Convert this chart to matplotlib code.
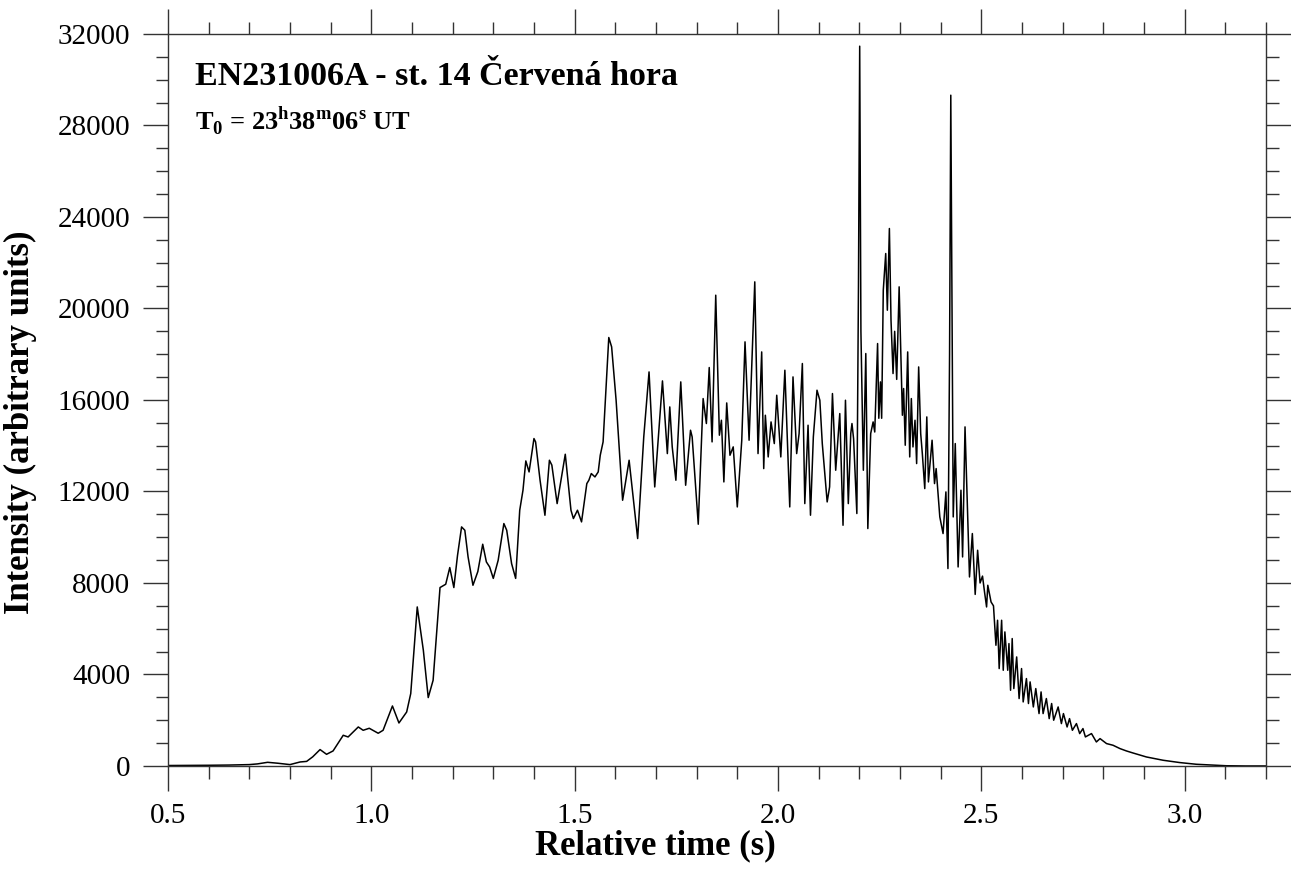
import numpy as np
import matplotlib
matplotlib.use('Agg')
import matplotlib.pyplot as plt
from matplotlib.ticker import MultipleLocator

plt.rcParams['font.family'] = 'Liberation Serif'
plt.rcParams['mathtext.fontset'] = 'custom'
plt.rcParams['mathtext.rm'] = 'Liberation Serif'
plt.rcParams['mathtext.bf'] = 'Liberation Serif:bold'

# light curve: relative time (s), intensity
time_s = [
    0.500, 0.550, 0.600, 0.650, 0.700, 0.720, 0.745, 0.770, 0.800, 0.825,
    0.841, 0.856, 0.874, 0.890, 0.906, 0.931, 0.943, 0.968, 0.980, 0.995,
    1.017, 1.029, 1.052, 1.068, 1.087, 1.097, 1.113, 1.128, 1.140, 1.152,
    1.169, 1.183, 1.193, 1.203, 1.212, 1.222, 1.230, 1.238, 1.250, 1.262,
    1.274, 1.283, 1.291, 1.300, 1.312, 1.326, 1.333, 1.345, 1.355, 1.365,
    1.373, 1.380, 1.388, 1.400, 1.404, 1.415, 1.427, 1.438, 1.444, 1.457,
    1.477, 1.491, 1.497, 1.507, 1.517, 1.530, 1.535, 1.541, 1.550, 1.558,
    1.563, 1.570, 1.584, 1.591, 1.602, 1.618, 1.634, 1.655, 1.670, 1.683,
    1.697, 1.716, 1.728, 1.734, 1.740, 1.749, 1.761, 1.773, 1.785, 1.789,
    1.804, 1.816, 1.824, 1.831, 1.838, 1.847, 1.856, 1.861, 1.867, 1.874,
    1.882, 1.890, 1.900, 1.911, 1.919, 1.929, 1.943, 1.951, 1.960, 1.965,
    1.969, 1.976, 1.983, 1.991, 1.997, 2.007, 2.017, 2.029, 2.037, 2.046,
    2.052, 2.060, 2.066, 2.074, 2.080, 2.087, 2.096, 2.103, 2.109, 2.121,
    2.127, 2.134, 2.142, 2.152, 2.160, 2.166, 2.173, 2.179, 2.182, 2.186,
    2.194, 2.198, 2.201, 2.204, 2.210, 2.216, 2.221, 2.228, 2.234, 2.238,
    2.245, 2.248, 2.252, 2.255, 2.259, 2.265, 2.269, 2.274, 2.278, 2.283,
    2.287, 2.292, 2.298, 2.306, 2.309, 2.313, 2.319, 2.324, 2.328, 2.332,
    2.337, 2.341, 2.346, 2.351, 2.355, 2.361, 2.366, 2.370, 2.379, 2.385,
    2.389, 2.398, 2.406, 2.413, 2.418, 2.422, 2.425, 2.428, 2.431, 2.436,
    2.443, 2.450, 2.454, 2.460, 2.466, 2.471, 2.478, 2.485, 2.491, 2.497,
    2.503, 2.508, 2.513, 2.516, 2.524, 2.530, 2.536, 2.540, 2.544, 2.550,
    2.554, 2.558, 2.565, 2.568, 2.572, 2.576, 2.580, 2.587, 2.593, 2.599,
    2.603, 2.611, 2.616, 2.620, 2.628, 2.634, 2.642, 2.647, 2.652, 2.660,
    2.667, 2.673, 2.678, 2.689, 2.697, 2.702, 2.711, 2.717, 2.724, 2.734,
    2.742, 2.750, 2.756, 2.771, 2.783, 2.792, 2.808, 2.824, 2.841, 2.857,
    2.873, 2.906, 2.947, 2.988, 3.029, 3.070, 3.102, 3.150, 3.200,
]
intensity = [
    20, 25, 30, 40, 60, 90, 160, 120, 60, 175,
    200, 400, 717, 510, 657, 1342, 1268, 1705, 1560, 1648,
    1430, 1560, 2623, 1880, 2360, 3165, 6952, 5058, 2990, 3747,
    7800, 7944, 8674, 7800, 9200, 10450, 10305, 9138, 7900, 8500,
    9693, 8919, 8700, 8200, 8993, 10597, 10305, 8847, 8200, 11180,
    12054, 13335, 12854, 14313, 14167, 12490, 10960, 13365, 13152, 11470,
    13627, 11180, 10816, 11180, 10670, 12345, 12490, 12783, 12636, 12854,
    13583, 14167, 18730, 18320, 15988, 11616, 13365, 9942, 14385, 17226,
    12198, 16833, 13656, 15696, 13949, 12490, 16790, 12272, 14677, 14385,
    10568, 16061, 14970, 17418, 14167, 20580, 14459, 15113, 12417, 15870,
    13583, 13949, 11324, 14240, 18540, 14240, 21163, 13656, 18100, 13000,
    15332, 13510, 15040, 14094, 16207, 13510, 17300, 11324, 17008, 13656,
    14531, 17593, 11470, 14896, 10962, 14385, 16426, 15988, 14094, 11543,
    12200, 16280, 12928, 15405, 10523, 15988, 11470, 14531, 14970, 14300,
    11036, 21000, 31466, 19000, 12928, 18030, 10379, 14531, 15040, 14600,
    18466, 15200, 16790, 15200, 20800, 22402, 19924, 23495, 19486, 17155,
    19000, 16900, 20945, 15332, 16500, 14021, 18100, 13510, 16061, 13947,
    15113, 13220, 17444, 14530, 13656, 12126, 15259, 12417, 14240, 12345,
    13000, 10887, 10160, 11980, 8630, 18000, 29323, 20000, 10887, 14094,
    8700, 12054, 9138, 14823, 11180, 8263, 10160, 7500, 9430, 8000,
    8300, 7600, 6952, 7900, 7170, 7000, 5277, 6370, 4258, 6370,
    4184, 5860, 4184, 5350, 3310, 5570, 3383, 4766, 2947, 4258,
    2800, 3821, 2730, 3675, 2580, 3383, 2290, 3237, 2290, 2947,
    2070, 2730, 2000, 2580, 1853, 2290, 1705, 2070, 1560, 1853,
    1416, 1635, 1270, 1416, 1050, 1196, 979, 905, 760, 656,
    568, 394, 250, 149, 74, 40, 10, 0, 0,
]

title = 'EN231006A - st. 14 Červená hora'
x_label = 'Relative time (s)'
y_label = 'Intensity (arbitrary units)'


def draw_curve():
    fig = plt.figure(figsize=(12.91, 8.73), dpi=100)
    ax = fig.add_axes([0.1301, 0.1226, 0.8505, 0.8385])

    ax.plot(time_s, intensity, color='black', lw=1.1)

    ax.set_xlim(0.5, 3.2)
    ax.set_ylim(0, 32000)
    ax.xaxis.set_major_locator(MultipleLocator(0.5))
    ax.xaxis.set_minor_locator(MultipleLocator(0.1))
    ax.yaxis.set_major_locator(MultipleLocator(4000))
    ax.yaxis.set_minor_locator(MultipleLocator(1000))
    ax.xaxis.set_major_formatter(plt.FormatStrFormatter('%.1f'))

    ax.tick_params(which='both', direction='out', top=True, right=True,
                   width=1.0, color='#333333', labelsize=21, pad=9)
    ax.tick_params(which='major', length=18)
    ax.tick_params(which='minor', length=9)
    for sp in ax.spines.values():
        sp.set_linewidth(1.0)
        sp.set_color('#333333')

    ax.set_xlabel(x_label, fontsize=25, fontweight='bold')
    ax.xaxis.set_label_coords(0.4435, -0.086)
    ax.set_ylabel(y_label, fontsize=25, fontweight='bold')
    ax.yaxis.set_label_coords(-0.119, 0.47)

    ax.text(0.0246, 0.930, title, transform=ax.transAxes, fontsize=24.5,
            fontweight='bold', ha='left', va='baseline')
    ax.text(0.0246, 0.869,
            r'T$_\mathbf{0}$ = 23$^\mathbf{h}$38$^\mathbf{m}$06$^\mathbf{s}$ UT',
            transform=ax.transAxes, fontsize=19, fontweight='bold',
            ha='left', va='baseline')

    plt.savefig('out.png', dpi=100)


if __name__ == '__main__':
    draw_curve()
